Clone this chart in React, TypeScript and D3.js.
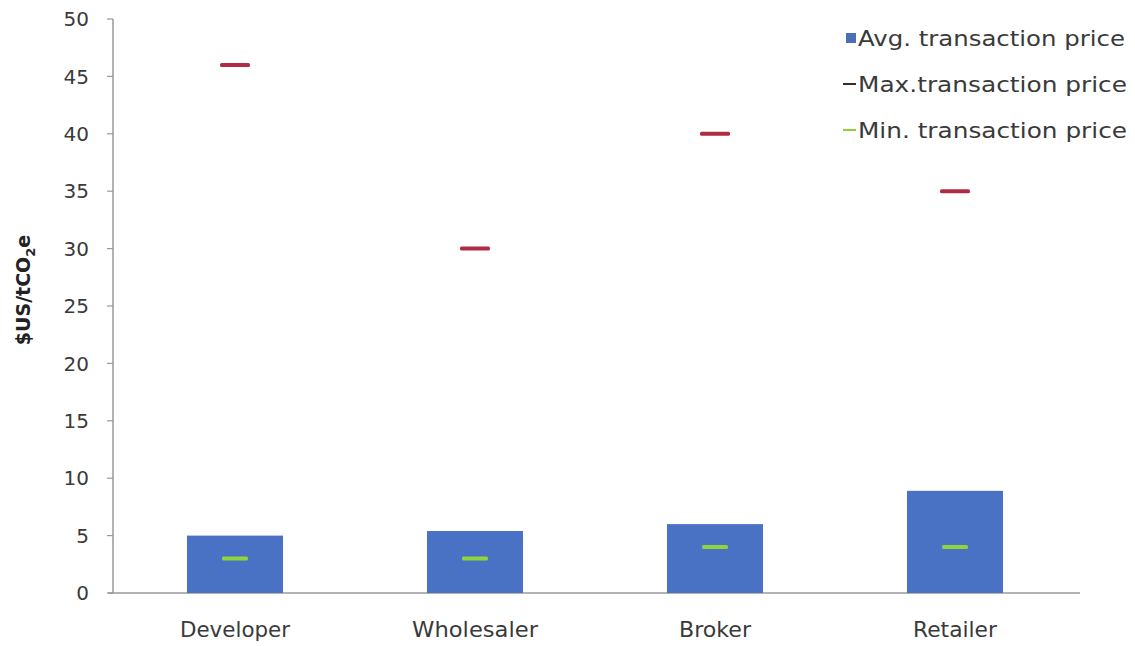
import React from "react";
import * as d3 from "d3";

const categories = ["Developer", "Wholesaler", "Broker", "Retailer"];
const avgPrice = [5.0, 5.4, 6.0, 8.9];
const maxPrice = [46, 30, 40, 35];
const minPrice = [3, 3, 4, 4];
const yTicks = [0, 5, 10, 15, 20, 25, 30, 35, 40, 45, 50];
const legendLabels = ["Avg. transaction price", "Max.transaction price", "Min. transaction price"];

export default function App() {
  const W = 1135, H = 646;
  const x = d3.scaleBand().domain(categories).range([115, 1075]).paddingInner(0.6).paddingOuter(0.3);
  const y = d3.scaleLinear().domain([0, 50]).range([593, 19]);
  const font = "'DejaVu Sans', 'Open Sans', sans-serif";
  const bw = x.bandwidth();
  const legendColors = ["#4a6fb5", "#3a2a2a", "#9acd32"];
  const legendWidths = [267, 269, 269];
  const labelWidths = [110, 126, 72, 84];
  return (
    <svg width={W} height={H} style={{ position: "absolute", left: 0, top: 0 }} fontFamily={font}>
      <rect width={W} height={H} fill="#fff" />
      {/* axes */}
      <line x1={113} x2={113} y1={y(50)} y2={y(0)} stroke="#999" strokeWidth={1.5} />
      <line x1={108} x2={1080} y1={y(0)} y2={y(0)} stroke="#999" strokeWidth={1.5} />
      {yTicks.map((t) => (
        <g key={t}>
          <line x1={107} x2={113} y1={y(t)} y2={y(t)} stroke="#999" strokeWidth={1.2} />
          <text x={89} y={y(t)} dy="0.36em" textAnchor="end" fontSize={20} fill="#3a3a3a">{t}</text>
        </g>
      ))}
      <text transform={`translate(30,290) rotate(-90)`} textAnchor="middle" fontSize={19} fontWeight="bold" fill="#222">
        $US/tCO<tspan fontSize={13} dy={5}>2</tspan><tspan dy={-5}>e</tspan>
      </text>
      {categories.map((c, i) => {
        const cx = (x(c) as number) + bw / 2;
        return (
          <g key={c}>
            <rect x={x(c)} y={y(avgPrice[i])} width={bw} height={y(0) - y(avgPrice[i])} fill="#4a72c4" />
            <rect x={cx - 15} y={y(maxPrice[i]) - 2} width={30} height={4} rx={1.5} fill="#b02c44" />
            <rect x={cx - 13} y={y(minPrice[i]) - 2} width={26} height={4} rx={1.5} fill="#8fd43a" />
            <text x={cx} y={637} textAnchor="middle" fontSize={21} fill="#3a3a3a" textLength={labelWidths[i]} lengthAdjust="spacingAndGlyphs">{c}</text>
          </g>
        );
      })}
      {/* legend */}
      {legendLabels.map((l, i) => {
        const ly = 38 + i * 46;
        return (
          <g key={l}>
            {i === 0 ? (
              <rect x={846} y={ly - 5} width={10} height={10} fill={legendColors[0]} />
            ) : (
              <line x1={843} x2={856} y1={ly} y2={ly} stroke={legendColors[i]} strokeWidth={2} />
            )}
            <text x={858} y={ly} dy="0.36em" fontSize={22} fill="#3a3a3a" textLength={legendWidths[i]} lengthAdjust="spacingAndGlyphs">{l}</text>
          </g>
        );
      })}
    </svg>
  );
}
